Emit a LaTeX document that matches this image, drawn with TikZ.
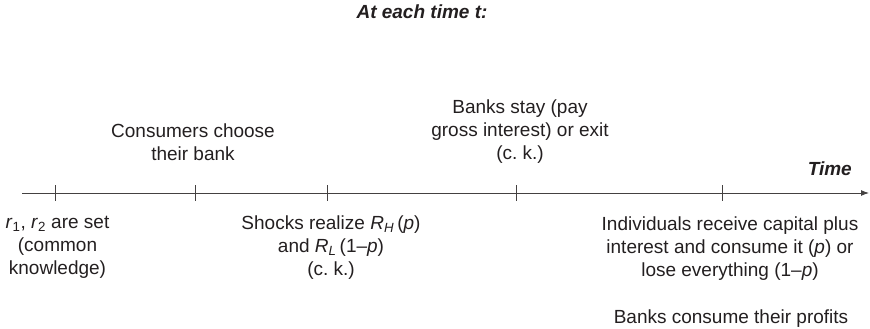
\documentclass[tikz,border=0pt]{standalone}
\usepackage{fontspec}
\setmainfont{Liberation Sans}
\usetikzlibrary{arrows.meta}
\definecolor{ink}{HTML}{231F20}
\begin{document}
\begin{tikzpicture}[x=1pt,y=-1pt,
  lbl/.style={inner sep=0pt,align=center,anchor=base,text=ink,
    font=\fontsize{19}{23}\selectfont\frenchspacing},
  ttl/.style={inner sep=0pt,anchor=base,text=ink,
    font=\fontsize{19}{23}\selectfont\bfseries\itshape},
  axis/.style={draw=ink!85,line width=1pt,-{Latex[length=8pt,width=6pt]}},
  tick/.style={draw=ink!85,line width=0.9pt}]
\useasboundingbox (0,0) rectangle (870,329);
% axis
\coordinate (start) at (22,193);
\coordinate (end) at (869,193);
\draw[axis] (start) -- (end);
% ticks
\foreach \n/\x in {t1/55,t2/195,t3/327,t4/516,t5/722}{
  \coordinate (\n) at (\x,193);
  \draw[tick] ([yshift=8pt]\n) -- ([yshift=-8pt]\n);
}
% labels (anchor base = baseline of the last line)
\node[ttl,anchor=base] (title) at (422,19) {At each time t:};
\node[ttl,anchor=base east] (time) at (852,175) {Time};
\node[lbl] (consumers) at (193,160) {Consumers choose\\their bank};
\node[lbl] (stay) at (520,159) {Banks stay (pay\\gross interest) or exit\\(c. k.)};
\node[lbl] (rates) at (57.5,274) {\textit{r}\textsubscript{1}, \textit{r}\textsubscript{2} are set\\(common\\knowledge)};
\node[lbl] (shocks) at (331,275) {Shocks realize \textit{R}\textsubscript{\textit{H}}\,(\textit{p})\\and \textit{R}\textsubscript{\textit{L}}\,(1–\textit{p})\\(c. k.)};
\node[lbl] (indiv) at (730,276) {Individuals receive capital plus\\interest and consume it (\textit{p}) or\\lose everything (1–\textit{p})};
\node[lbl] (profits) at (731,323) {Banks consume their profits};
\end{tikzpicture}
\end{document}
